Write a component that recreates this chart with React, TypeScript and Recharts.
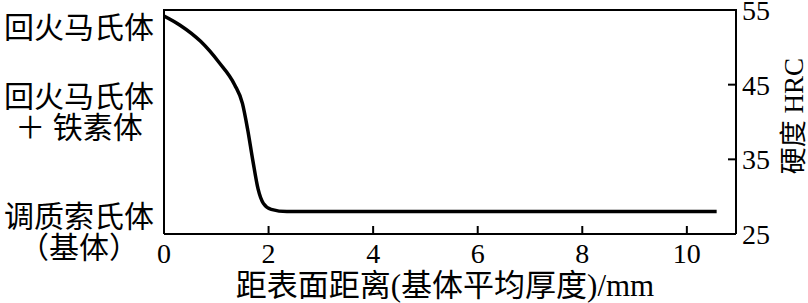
import React from 'react';
import { LineChart, Line, XAxis, YAxis } from 'recharts';

// distance from surface (mm) and hardness (HRC)
const depth = [0, 0.3, 0.7, 1.05, 1.35, 1.5, 1.6, 1.7, 1.8, 1.9, 2.05, 2.35, 4, 6, 8, 10, 10.57];
const hardness = [54.2, 53.0, 50.8, 48.0, 45.0, 42.5, 39.0, 34.8, 31.0, 29.1, 28.3, 28.0, 28.0, 28.0, 28.0, 28.0, 28.0];

const depthTicks = [0, 2, 4, 6, 8, 10];
const hardnessTicks = [25, 35, 45, 55];
const depthMax = 10.94;

// microstructure notes on the left, placed at their hardness level
const structureLevels = [52.7, 41.3, 25.3];
const structureNames = [['回火马氏体'], ['回火马氏体', '＋ 铁素体'], ['调质索氏体', '（基体）']];

const data = depth.map((d, i) => ({ depth: d, hrc: hardness[i] }));

const FONT = "'Liberation Serif', 'Noto Sans CJK SC', serif";

const StructureTick: React.FC<any> = ({ x, y, payload }) => {
  const idx = structureLevels.indexOf(payload.value);
  const lines = structureNames[idx] || [];
  const gap = 31;
  return (
    <g>
      {lines.map((t, i) => (
        <text
          key={i}
          x={x}
          y={y + (i - (lines.length - 1) / 2) * gap}
          textAnchor="middle"
          dominantBaseline="central"
          fontSize={30}
          fontFamily={FONT}
          fill="#000"
        >
          {t}
        </text>
      ))}
    </g>
  );
};

const axisStyle = { stroke: '#000', strokeWidth: 2 };

const App: React.FC = () => {
  return (
    <div style={{ position: 'absolute', left: 0, top: 0, width: 808, height: 303, background: '#fff' }}>
      <LineChart width={808} height={303} data={data} margin={{ top: 10, right: 0, bottom: 0, left: 0 }}>
        <XAxis
          dataKey="depth"
          type="number"
          domain={[0, depthMax]}
          allowDataOverflow
          ticks={depthTicks}
          interval={0}
          height={69}
          tickSize={-8}
          tickMargin={17}
          axisLine={axisStyle}
          tickLine={axisStyle}
          tick={{ fill: '#000', fontSize: 28, fontFamily: FONT }}
          label={{
            content: ({ viewBox }: any) => (
              <text
                x={viewBox.x + viewBox.width / 2 - 5}
                y={viewBox.y + 62}
                textAnchor="middle"
                fontSize={31}
                fontFamily={FONT}
                fill="#000"
              >
                距表面距离(基体平均厚度)/mm
              </text>
            ),
          }}
        />
        <YAxis
          yAxisId="left"
          orientation="left"
          type="number"
          domain={[25, 55]}
          allowDataOverflow
          ticks={structureLevels}
          interval={0}
          width={164}
          tickSize={0}
          tickMargin={85}
          tickLine={false}
          axisLine={axisStyle}
          tick={<StructureTick />}
        />
        <YAxis
          yAxisId="right"
          orientation="right"
          type="number"
          domain={[25, 55]}
          allowDataOverflow
          ticks={hardnessTicks}
          interval={0}
          width={72}
          tickSize={-8}
          tickMargin={14}
          axisLine={axisStyle}
          tickLine={axisStyle}
          tick={{ fill: '#000', fontSize: 28, fontFamily: FONT, textAnchor: 'start' }}
          label={{
            content: ({ viewBox }: any) => {
              const lx = viewBox.x + 58;
              const ly = viewBox.y + viewBox.height / 2 - 6;
              return (
                <text
                  x={lx}
                  y={ly}
                  transform={`rotate(-90, ${lx}, ${ly})`}
                  textAnchor="middle"
                  dominantBaseline="central"
                  fontSize={27}
                  fontFamily={FONT}
                  fill="#000"
                >
                  硬度 HRC
                </text>
              );
            },
          }}
        />
        <Line
          yAxisId="right"
          dataKey="hrc"
          type="monotone"
          stroke="#000"
          strokeWidth={3.5}
          dot={false}
          isAnimationActive={false}
        />
      </LineChart>
      {/* top edge of the plot frame */}
      <div
        style={{
          position: 'absolute',
          left: 163,
          top: 9,
          width: 574,
          height: 0,
          borderTop: '2px solid #000',
          pointerEvents: 'none',
        }}
      />
    </div>
  );
};

export default App;
